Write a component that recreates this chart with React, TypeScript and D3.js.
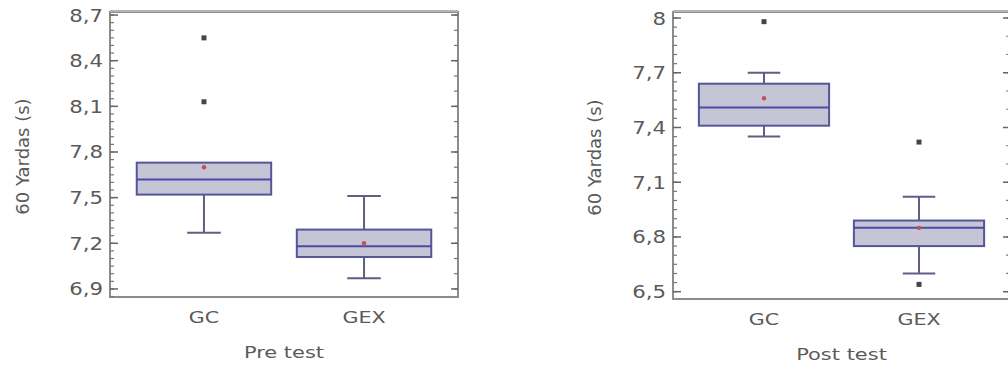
import React, { useRef, useEffect } from 'react';
import * as d3 from 'd3';

const groups = ['GC', 'GEX'];

// Pre test
const preQ1 = [7.52, 7.11];
const preMedian = [7.62, 7.18];
const preQ3 = [7.73, 7.29];
const preLow = [7.27, 6.97];
const preHigh = [7.73, 7.51];
const preMean = [7.70, 7.20];
const preOutliers = [[8.55, 8.13], []];
const preTicks = [6.9, 7.2, 7.5, 7.8, 8.1, 8.4, 8.7];

// Post test
const postQ1 = [7.41, 6.75];
const postMedian = [7.51, 6.85];
const postQ3 = [7.64, 6.89];
const postLow = [7.35, 6.60];
const postHigh = [7.70, 7.02];
const postMean = [7.56, 6.85];
const postOutliers = [[7.98], [7.32, 6.54]];
const postTicks = [6.5, 6.8, 7.1, 7.4, 7.7, 8];

const textColor = '#5a5a5a';
const boxStroke = '#55559a';
const boxFill = '#c6c5d6';
const whiskerColor = '#5e5e86';

const App = () => {
  const ref = useRef(null);

  useEffect(() => {
    if (!ref.current) return;
    const svg = d3.select(ref.current);
    svg.selectAll('*').remove();

    const panels = [
      {
        title: 'Pre test', left: 110, right: 458, top: 12, bottom: 297, domain: [6.847, 8.72],
        q1: preQ1, med: preMedian, q3: preQ3, lo: preLow, hi: preHigh, mean: preMean,
        out: preOutliers, ticks: preTicks, labelX: 23,
      },
      {
        title: 'Post test', left: 673, right: 1010, top: 12, bottom: 299, domain: [6.46, 8.033],
        q1: postQ1, med: postMedian, q3: postQ3, lo: postLow, hi: postHigh, mean: postMean,
        out: postOutliers, ticks: postTicks, labelX: 595,
      },
    ];

    panels.forEach(p => {
      const g = svg.append('g');
      const y = d3.scaleLinear().domain(p.domain).range([p.bottom, p.top]);
      const x = d3.scalePoint().domain(groups).range([p.left, p.right]).padding(0.587);
      const bw = x.step() * 0.84;
      const cw = bw / 4;

      // frame
      g.append('rect')
        .attr('x', p.left).attr('y', p.top)
        .attr('width', p.right - p.left).attr('height', p.bottom - p.top)
        .attr('fill', '#fff').attr('stroke', '#8c8c8c').attr('stroke-width', 2);
      g.append('line')
        .attr('x1', p.left).attr('x2', p.right).attr('y1', p.top - 1).attr('y2', p.top - 1)
        .attr('stroke', '#b4b4b4').attr('stroke-width', 2);

      // minor ticks
      const minor = d3.range(Math.ceil(p.domain[0] * 20), Math.floor(p.domain[1] * 20) + 1).map(d => d / 20);
      g.selectAll('.minl').data(minor).enter().append('line')
        .attr('x1', p.left).attr('x2', p.left + 4)
        .attr('y1', d => y(d)).attr('y2', d => y(d))
        .attr('stroke', '#777').attr('stroke-width', 1.2);
      const minorR = minor.filter(d => Math.abs(d * 10 - Math.round(d * 10)) < 1e-6);
      g.selectAll('.minr').data(minorR).enter().append('line')
        .attr('x1', p.right).attr('x2', p.right - 4)
        .attr('y1', d => y(d)).attr('y2', d => y(d))
        .attr('stroke', '#777').attr('stroke-width', 1.2);
      // major ticks
      g.selectAll('.majl').data(p.ticks).enter().append('line')
        .attr('x1', p.left).attr('x2', p.left + 8)
        .attr('y1', d => y(d)).attr('y2', d => y(d))
        .attr('stroke', '#666').attr('stroke-width', 1.5);
      g.selectAll('.majr').data(p.ticks).enter().append('line')
        .attr('x1', p.right).attr('x2', p.right - 7)
        .attr('y1', d => y(d)).attr('y2', d => y(d))
        .attr('stroke', '#666').attr('stroke-width', 1.5);

      // tick labels
      g.selectAll('.tl').data(p.ticks).enter().append('text')
        .attr('transform', d => `translate(${p.left - 7},${y(d) + 6.5}) scale(1.25,1)`)
        .attr('text-anchor', 'end')
        .attr('font-family', 'DejaVu Sans').attr('font-size', 17)
        .attr('fill', textColor)
        .text(d => String(d).replace('.', ','));

      // y label
      g.append('text')
        .attr('transform', `translate(${p.labelX + 6},${(p.top + p.bottom) / 2 + 2}) rotate(-90)`)
        .attr('text-anchor', 'middle')
        .attr('font-family', 'DejaVu Sans').attr('font-size', 18)
        .attr('fill', textColor)
        .text('60 Yardas (s)');

      // x labels
      g.selectAll('.xl').data(groups).enter().append('text')
        .attr('transform', d => `translate(${x(d)},${p.bottom + 26}) scale(1.25,1)`)
        .attr('text-anchor', 'middle')
        .attr('font-family', 'DejaVu Sans').attr('font-size', 16.5)
        .attr('fill', textColor)
        .text(d => d);
      g.append('text')
        .attr('transform', `translate(${(p.left + p.right) / 2},${p.bottom + 61}) scale(1.27,1)`)
        .attr('text-anchor', 'middle')
        .attr('font-family', 'DejaVu Sans').attr('font-size', 16.5)
        .attr('fill', textColor)
        .text(p.title);

      groups.forEach((grp, i) => {
        const cx = x(grp);
        // whiskers
        g.append('line')
          .attr('x1', cx).attr('x2', cx).attr('y1', y(p.lo[i])).attr('y2', y(p.q1[i]))
          .attr('stroke', whiskerColor).attr('stroke-width', 2);
        g.append('line')
          .attr('x1', cx).attr('x2', cx).attr('y1', y(p.hi[i])).attr('y2', y(p.q3[i]))
          .attr('stroke', whiskerColor).attr('stroke-width', 2);
        g.append('line')
          .attr('x1', cx - cw / 2).attr('x2', cx + cw / 2).attr('y1', y(p.lo[i])).attr('y2', y(p.lo[i]))
          .attr('stroke', whiskerColor).attr('stroke-width', 2);
        if (p.hi[i] > p.q3[i] + 0.001) {
          g.append('line')
            .attr('x1', cx - cw / 2).attr('x2', cx + cw / 2).attr('y1', y(p.hi[i])).attr('y2', y(p.hi[i]))
            .attr('stroke', whiskerColor).attr('stroke-width', 2);
        }
        // box
        g.append('rect')
          .attr('x', cx - bw / 2).attr('y', y(p.q3[i]))
          .attr('width', bw).attr('height', y(p.q1[i]) - y(p.q3[i]))
          .attr('fill', boxFill).attr('stroke', boxStroke).attr('stroke-width', 2);
        g.append('line')
          .attr('x1', cx - bw / 2).attr('x2', cx + bw / 2).attr('y1', y(p.med[i])).attr('y2', y(p.med[i]))
          .attr('stroke', '#4a4aa6').attr('stroke-width', 2);
        // mean
        g.append('circle')
          .attr('cx', cx).attr('cy', y(p.mean[i])).attr('r', 2.2)
          .attr('fill', '#c0505a');
        // outliers
        g.selectAll(null).data(p.out[i]).enter().append('rect')
          .attr('x', cx - 2.5).attr('y', d => y(d) - 2.5)
          .attr('width', 5).attr('height', 5)
          .attr('fill', '#44444f');
      });
    });
  }, []);

  return (
    <svg ref={ref} width={1008} height={367}
      style={{ position: 'absolute', left: 0, top: 0, background: '#fff' }} />
  );
};

export default App;
